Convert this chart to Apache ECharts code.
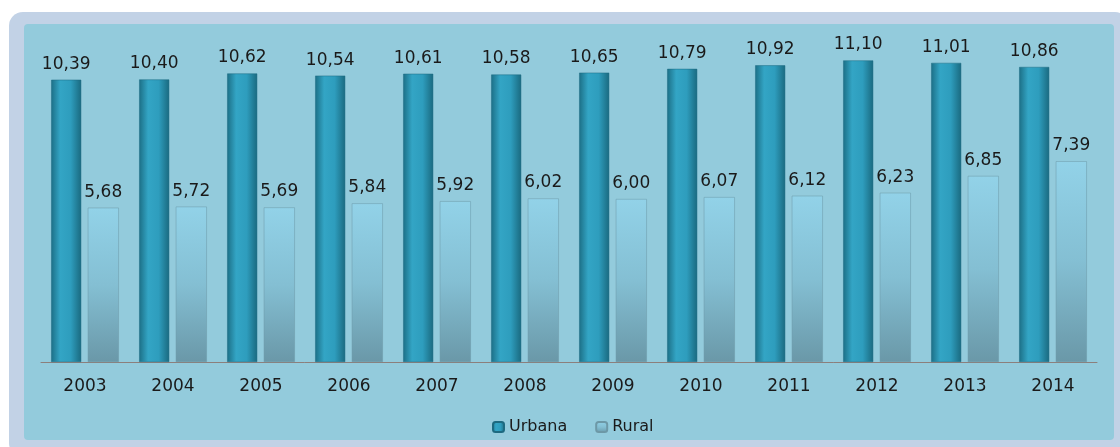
<!DOCTYPE html>
<html>
<head>
<meta charset="utf-8">
<script src="https://cdn.jsdelivr.net/npm/echarts@6/dist/echarts.min.js"></script>
<style>
html, body { margin:0; padding:0; background:#ffffff; }
#chart { width:1120px; height:447px; }
</style>
</head>
<body>
<div id="chart"></div>
<script>
var years = ['2003','2004','2005','2006','2007','2008','2009','2010','2011','2012','2013','2014'];
var urbana = [10.39,10.40,10.62,10.54,10.61,10.58,10.65,10.79,10.92,11.10,11.01,10.86];
var rural = [5.68,5.72,5.69,5.84,5.92,6.02,6.00,6.07,6.12,6.23,6.85,7.39];

var chart = echarts.init(document.getElementById('chart'));

function fmt(p){
	return p.value.toFixed(2).replace('.', ',');
}

var urbanaColor = new echarts.graphic.LinearGradient(0, 0, 1, 0, [
	{offset: 0, color: '#1c6f86'},
	{offset: 0.3, color: '#33a5c5'},
	{offset: 0.65, color: '#2e9dbd'},
	{offset: 1, color: '#1a6a80'}
]);
var ruralColor = new echarts.graphic.LinearGradient(0, 0, 0, 1, [
	{offset: 0, color: '#92d2e8'},
	{offset: 0.5, color: '#84bfd3'},
	{offset: 1, color: '#6a98a8'}
]);

var option = {
	backgroundColor: '#ffffff',
	animation: false,
	graphic: [
		{
			type: 'rect',
			shape: {x: 9, y: 12, width: 1120, height: 445, r: 14},
			style: {fill: '#c2d2e6'},
			z: -10
		},
		{
			type: 'rect',
			shape: {x: 24, y: 24, width: 1090, height: 416, r: 4},
			style: {fill: '#93cbdc'},
			z: -9
		}
	],
	legend: {
		top: 414,
		left: 487,
		itemWidth: 11,
		itemHeight: 10,
		itemGap: 28,
		textStyle: {fontFamily: 'DejaVu Sans', fontSize: 16, color: '#1a1a1a'},
		data: ['Urbana', 'Rural']
	},
	grid: {left: 41, right: 23, top: 36, bottom: 85},
	xAxis: {
		type: 'category',
		data: years,
		axisLine: {lineStyle: {color: '#8c7f7c', width: 1}},
		axisTick: {show: false},
		axisLabel: {fontFamily: 'DejaVu Sans', fontSize: 17, color: '#1a1a1a', margin: 16}
	},
	yAxis: {
		type: 'value',
		min: 0,
		max: 12,
		show: false
	},
	series: [
		{
			name: 'Urbana',
			type: 'bar',
			data: urbana,
			barWidth: 30,
			barGap: '22%',
			itemStyle: {color: urbanaColor, borderColor: '#1d6a80', borderWidth: 0.5},
			label: {
				show: true, position: 'top', distance: 7, formatter: fmt,
				fontFamily: 'DejaVu Sans', fontSize: 17, color: '#1a1a1a'
			}
		},
		{
			name: 'Rural',
			type: 'bar',
			data: rural,
			barWidth: 31,
			itemStyle: {color: ruralColor, borderColor: '#6d98a6', borderWidth: 0.5},
			label: {
				show: true, position: 'top', distance: 7, formatter: fmt,
				fontFamily: 'DejaVu Sans', fontSize: 17, color: '#1a1a1a'
			}
		}
	]
};
chart.setOption(option);
</script>
</body>
</html>
